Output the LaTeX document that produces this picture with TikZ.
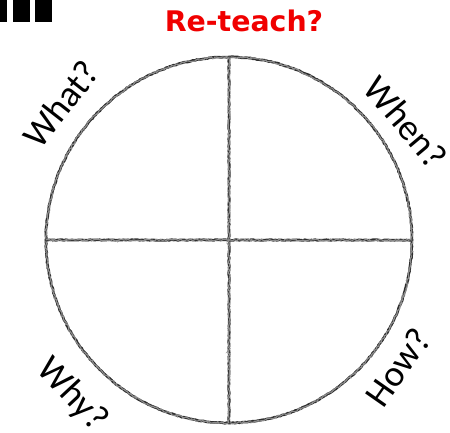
\documentclass[tikz,border=0pt]{standalone}
\usepackage{fontspec}
\setmainfont{Carlito}
\newfontfamily\titlefont{DejaVu Sans}
\usetikzlibrary{positioning,decorations.pathmorphing}
\definecolor{Pencil}{HTML}{2E2E2E}
\definecolor{TitleRed}{HTML}{F00000}
\tikzset{
  pencil/.style={draw=Pencil,line width=2.6pt,line cap=round,
    decorate,decoration={random steps,segment length=2pt,amplitude=.4pt}},
  pencilfaint/.style={draw=Pencil!55,line width=1.2pt,line cap=round,
    decorate,decoration={random steps,segment length=1.5pt,amplitude=1pt}},
  qlab/.style={font=\fontsize{37}{37}\selectfont,text=black,inner sep=0pt},
  heading/.style={font=\titlefont\bfseries\fontsize{28.5}{28.5}\selectfont,text=TitleRed,inner sep=0pt},
  marker/.style={fill=black,draw=none}
}
\begin{document}
\begin{tikzpicture}[x=1bp,y=-1bp]
  \useasboundingbox (0,0) rectangle (450,432);
  % corner marks
  \fill[marker] (0,0) rectangle (7,22);
  \fill[marker] (13,0) rectangle (30,22);
  \fill[marker] (35,0) rectangle (52,22);
  % title
  \node[heading] (title) at (244,21) {Re-teach?};
  % circle and quarters
  \coordinate (c) at (229,240);
  \coordinate (top) at (229,57);
  \coordinate (bot) at (229,423);
  \coordinate (lft) at (46,240);
  \coordinate (rgt) at (412,240);
  \draw[pencil] (c) circle (183);
  \draw[pencilfaint] (c) circle (183);
  \draw[pencil] (top) -- (bot);
  \draw[pencil] (lft) -- (rgt);
  \draw[pencilfaint] (top) -- (bot);
  \draw[pencilfaint] (lft) -- (rgt);
  % questions
  \node[qlab,rotate=52] (what) at (61,104) {What?};
  \node[qlab,rotate=-50] (when) at (406,122) {When?};
  \node[qlab,rotate=-47] (why) at (72,395) {Why?};
  \node[qlab,rotate=55] (how) at (398,367) {How?};
\end{tikzpicture}
\end{document}
